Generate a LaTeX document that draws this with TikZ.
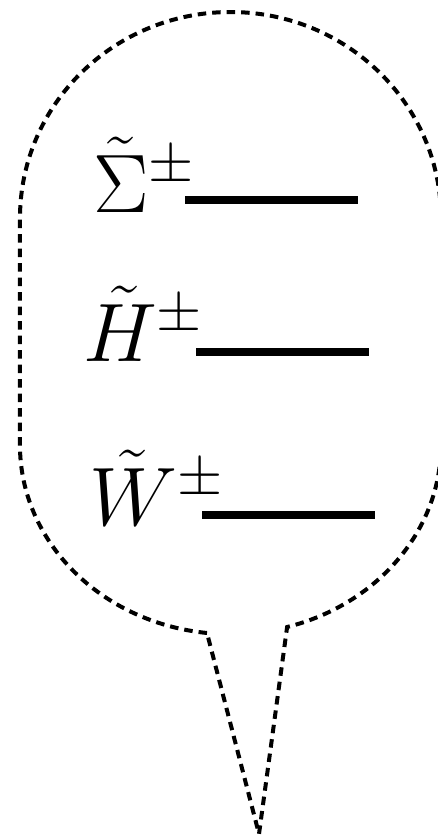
\RequirePackage{fix-cm}
\documentclass[tikz,border=0pt]{standalone}
\begin{document}
\begin{tikzpicture}[x=1pt,y=1pt,
  balloon/.style={draw=black,line width=4pt,dash pattern=on 8.5pt off 6pt,line join=miter},
  level/.style={line width=8pt,line cap=butt},
  lab/.style={anchor=base west,inner sep=0pt,outer sep=0pt,font=\fontsize{83}{95}\selectfont}]
\useasboundingbox (0,0) rectangle (438,-836);
% balloon outline
\draw[balloon] (207,-633)
  arc[start angle=263.6,end angle=180,x radius=210.5,y radius=189]
  -- (20,-218)
  arc[start angle=180,end angle=0,x radius=210.5,y radius=206]
  -- (441,-445)
  arc[start angle=360,end angle=285.6,x radius=210.5,y radius=189]
  -- (259,-834) -- cycle;
% labels
\node[lab] (sig) at (93,-212) {$\tilde{\Sigma}^{\pm}$};
\node[lab] (hig) at (83,-361) {$\tilde{H}^{\pm}$};
\node[lab] (win) at (89,-525) {$\tilde{W}^{\pm}$};
% levels
\coordinate (s1) at (185,-200); \coordinate (s2) at (358,-200);
\coordinate (h1) at (196,-352); \coordinate (h2) at (369,-352);
\coordinate (w1) at (202,-515); \coordinate (w2) at (375,-515);
\draw[level] (s1) -- (s2);
\draw[level] (h1) -- (h2);
\draw[level] (w1) -- (w2);
\end{tikzpicture}
\end{document}
